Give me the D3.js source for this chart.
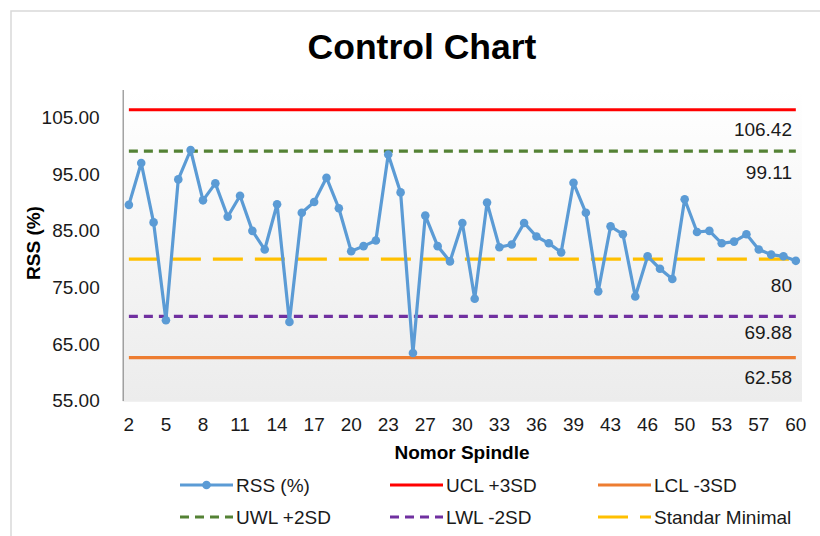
<!DOCTYPE html>
<html>
<head>
<meta charset="utf-8">
<script src="https://cdn.jsdelivr.net/npm/d3@7"></script>
<style>
  body { margin: 0; background: #fff; }
  svg { font-family: "Liberation Sans", Arial, sans-serif; }
</style>
</head>
<body>
<svg id="chart" width="820" height="536"></svg>
<script>
// spindle numbers (category axis)
const spindles = [
  2, 3, 4, 5, 6, 7, 8, 9, 10, 11, 12, 13, 14, 15, 16, 17, 18, 19, 20, 21, 22, 23,
  25, 26, 27, 28, 29, 30, 31, 32, 33, 34, 35, 36, 37, 38, 39,
  40, 42, 43, 44, 45, 46, 47, 49, 50, 51, 52, 53, 54, 56, 57, 58, 59, 60
];

// RSS (%) per spindle
const rss = [
  89.6, 97.0, 86.5, 69.2, 94.1, 99.3, 90.4, 93.4, 87.5, 91.2, 85.0,
  81.7, 89.7, 68.9, 88.2, 90.1, 94.4, 89.0, 81.4, 82.3, 83.3, 98.5,
  91.8, 63.4, 87.7, 82.3, 79.6, 86.4, 73.0, 90.0, 82.1, 82.6, 86.4,
  84.0, 82.8, 81.2, 93.5, 88.2, 74.3, 85.8, 84.4, 73.4, 80.5, 78.3,
  76.5, 90.6, 84.8, 85.0, 82.8, 83.1, 84.4, 81.7, 80.8, 80.5, 79.7
];

const xTickLabels = [2, 5, 8, 11, 14, 17, 20, 23, 27, 30, 33, 36, 39, 43, 46, 50, 53, 57, 60];
const yTicks = [55, 65, 75, 85, 95, 105];

const limitNames = ['UCL +3SD', 'UWL +2SD', 'Standar Minimal', 'LWL -2SD', 'LCL -3SD'];
const limitValues = [106.42, 99.11, 80, 69.88, 62.58];

const legendOrder = ['RSS (%)', 'UCL +3SD', 'LCL -3SD', 'UWL +2SD', 'LWL -2SD', 'Standar Minimal'];

// look of each series
const styles = {
  'RSS (%)':         { color: '#5b9bd5', dash: null,   width: 3.2 },
  'UCL +3SD':        { color: '#ff0000', dash: null,   width: 3.2, dy: 20 },
  'UWL +2SD':        { color: '#548235', dash: '9,6',  width: 3.2, dy: 21 },
  'Standar Minimal': { color: '#ffc000', dash: '30,12', width: 3.2, dy: 26 },
  'LWL -2SD':        { color: '#7030a0', dash: '9,6',  width: 3.2, dy: 16 },
  'LCL -3SD':        { color: '#ed7d31', dash: null,   width: 3.2, dy: 20 }
};

const svg = d3.select('#chart');

const plot = { left: 122.7, right: 802, top: 89.5, bottom: 400.5 };

const x = d3.scaleBand()
  .domain(spindles)
  .range([plot.left, plot.right]);

const cx = d => x(d) + x.bandwidth() / 2;

const y = d3.scaleLinear()
  .domain([55, 110])
  .range([plot.bottom, plot.top]);

// outer chart border
svg.append('rect')
  .attr('x', 11).attr('y', 11)
  .attr('width', 830).attr('height', 560)
  .attr('fill', '#fff')
  .attr('stroke', '#d9d9d9')
  .attr('stroke-width', 1.5);

// plot area gradient
const grad = svg.append('defs').append('linearGradient')
  .attr('id', 'plotbg')
  .attr('x1', 0).attr('y1', 0).attr('x2', 0).attr('y2', 1);
grad.append('stop').attr('offset', '0%').attr('stop-color', '#ffffff');
grad.append('stop').attr('offset', '100%').attr('stop-color', '#ececec');

svg.append('rect')
  .attr('x', plot.left).attr('y', plot.top)
  .attr('width', plot.right - plot.left)
  .attr('height', plot.bottom - plot.top)
  .attr('fill', 'url(#plotbg)');

svg.append('line')
  .attr('x1', plot.left).attr('x2', plot.right)
  .attr('y1', plot.bottom + 0.5).attr('y2', plot.bottom + 0.5)
  .attr('stroke', '#e4e4e4')
  .attr('stroke-width', 1);

// title
svg.append('text')
  .attr('x', 422).attr('y', 59)
  .attr('text-anchor', 'middle')
  .attr('font-size', 35.5)
  .attr('font-weight', 'bold')
  .attr('fill', '#000')
  .text('Control Chart');

// y axis
const yAxis = svg.append('g')
  .attr('transform', `translate(${plot.left},0)`)
  .call(d3.axisLeft(y)
    .tickValues(yTicks)
    .tickFormat(d3.format('.2f'))
    .tickSize(0)
    .tickSizeOuter(0)
    .tickPadding(23));
yAxis.select('.domain').attr('stroke', '#8c8c8c').attr('stroke-width', 1.2);
yAxis.selectAll('text')
  .attr('font-size', 19)
  .attr('font-family', '"Liberation Sans", Arial, sans-serif')
  .attr('fill', '#1a1a1a');

// x axis
const xAxis = svg.append('g')
  .attr('transform', `translate(0,${plot.bottom})`)
  .call(d3.axisBottom(x)
    .tickValues(xTickLabels)
    .tickSize(0)
    .tickPadding(17));
xAxis.select('.domain').remove();
xAxis.selectAll('text')
  .attr('font-size', 19)
  .attr('font-family', '"Liberation Sans", Arial, sans-serif')
  .attr('fill', '#1a1a1a');

// axis titles
svg.append('text')
  .attr('transform', 'translate(40,243) rotate(-90)')
  .attr('text-anchor', 'middle')
  .attr('font-size', 19)
  .attr('font-weight', 'bold')
  .text('RSS (%)');

svg.append('text')
  .attr('x', 462).attr('y', 459)
  .attr('text-anchor', 'middle')
  .attr('font-size', 19)
  .attr('font-weight', 'bold')
  .text('Nomor Spindle');

// control / warning limit lines
const first = spindles[0];
const last = spindles[spindles.length - 1];

limitNames.forEach((name, i) => {
  const s = styles[name];
  const v = limitValues[i];
  svg.append('line')
    .attr('x1', cx(first)).attr('x2', cx(last))
    .attr('y1', y(v)).attr('y2', y(v))
    .attr('stroke', s.color)
    .attr('stroke-width', s.width)
    .attr('stroke-dasharray', s.dash);

  svg.append('text')
    .attr('x', 792)
    .attr('y', y(v) + s.dy)
    .attr('dy', '0.35em')
    .attr('text-anchor', 'end')
    .attr('font-size', 19)
    .attr('fill', '#1a1a1a')
    .text(d3.format('')(v));
});

// RSS series
const series = spindles.map((sp, i) => ({ sp: sp, v: rss[i] }));

svg.append('path')
  .datum(series)
  .attr('fill', 'none')
  .attr('stroke', styles['RSS (%)'].color)
  .attr('stroke-width', styles['RSS (%)'].width)
  .attr('stroke-linejoin', 'round')
  .attr('d', d3.line().x(d => cx(d.sp)).y(d => y(d.v)));

svg.append('g')
  .selectAll('circle')
  .data(series)
  .join('circle')
  .attr('cx', d => cx(d.sp))
  .attr('cy', d => y(d.v))
  .attr('r', 4.3)
  .attr('fill', styles['RSS (%)'].color);

// legend
const legendCols = [180, 390, 598];
const legendRows = [485, 517];
const lineLen = 53;

legendOrder.forEach((name, i) => {
  const s = styles[name];
  const lx = legendCols[i % 3];
  const ly = legendRows[Math.floor(i / 3)];
  const g = svg.append('g');
  g.append('line')
    .attr('x1', lx).attr('x2', lx + lineLen)
    .attr('y1', ly).attr('y2', ly)
    .attr('stroke', s.color)
    .attr('stroke-width', s.width)
    .attr('stroke-dasharray', s.dash);
  if (name === 'RSS (%)') {
    g.append('circle')
      .attr('cx', lx + lineLen / 2).attr('cy', ly)
      .attr('r', 4.3)
      .attr('fill', s.color);
  }
  g.append('text')
    .attr('x', lx + lineLen + 3)
    .attr('y', ly)
    .attr('dy', '0.35em')
    .attr('font-size', 19)
    .attr('fill', '#1a1a1a')
    .text(name);
});
</script>
</body>
</html>
